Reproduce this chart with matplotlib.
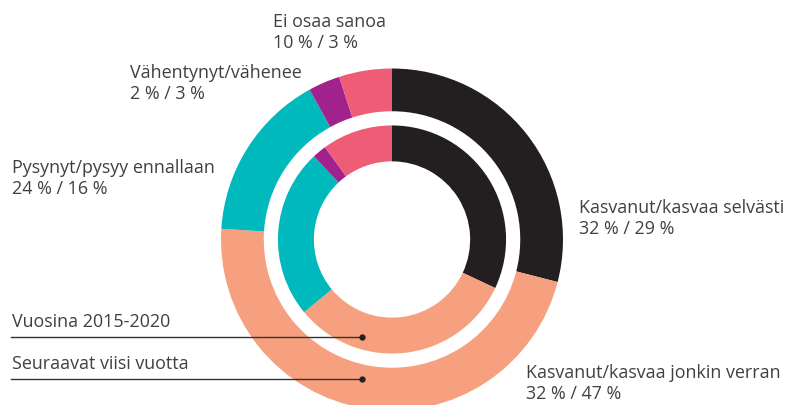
import matplotlib.pyplot as plt

# Vuosina 2015-2020 (inner ring) / Seuraavat viisi vuotta (outer ring)
categories = ['Kasvanut/kasvaa selvästi', 'Kasvanut/kasvaa jonkin verran',
              'Pysynyt/pysyy ennallaan', 'Vähentynyt/vähenee', 'Ei osaa sanoa']
inner_pct = [32, 32, 24, 2, 10]
outer_pct = [29, 47, 16, 3, 3]
# the outer "Ei osaa sanoa" arc is drawn wider than its label (about 5 %)
outer_arc = [29, 47, 16, 3, 5]
colors = ['#231f20', '#f6a07f', '#00b9bc', '#a1228c', '#ef5c75']

W, H = 785, 405
fig = plt.figure(figsize=(W / 100, H / 100), dpi=100)

# pie axes: centre (392, 239.5) px, outer radius 171 px
cx, cy, R = 392, 239.5, 171
ax = fig.add_axes([(cx - R) / W, (H - cy - R) / H, 2 * R / W, 2 * R / H])
ax.pie(outer_arc, radius=1.0, colors=colors, startangle=90, counterclock=False,
       wedgeprops=dict(width=0.25, linewidth=0))
ax.pie(inner_pct, radius=0.667, colors=colors, startangle=90, counterclock=False,
       wedgeprops=dict(width=0.21, linewidth=0))
ax.set_xlim(-1, 1)
ax.set_ylim(-1, 1)
ax.set_aspect('auto')
ax.axis('off')

# overlay in pixel coordinates for labels
ov = fig.add_axes([0, 0, 1, 1], zorder=5)
ov.set_xlim(0, W)
ov.set_ylim(H, 0)
ov.axis('off')
ov.patch.set_alpha(0)

font = dict(family=['Open Sans', 'DejaVu Sans'], fontsize=12.9, color='#404040',
            va='baseline', ha='left')
label_pos = [(579, 213), (526, 378), (12, 173), (130, 78), (273, 27)]
for cat, a, b, (x, y) in zip(categories, inner_pct, outer_pct, label_pos):
    ov.text(x, y, cat, **font)
    ov.text(x, y + 21, f'{a} % / {b} %', **font)

# ring legend with leader lines
rings = ['Vuosina 2015-2020', 'Seuraavat viisi vuotta']
for name, y in zip(rings, [327, 369]):
    ov.text(12, y, name, **font)
    ov.plot([11, 362], [y + 10, y + 10], color='#333333', lw=1)
    ov.plot([362], [y + 10], 'o', color='#231f20', ms=3.5)

fig.savefig('out.png', dpi=100)
